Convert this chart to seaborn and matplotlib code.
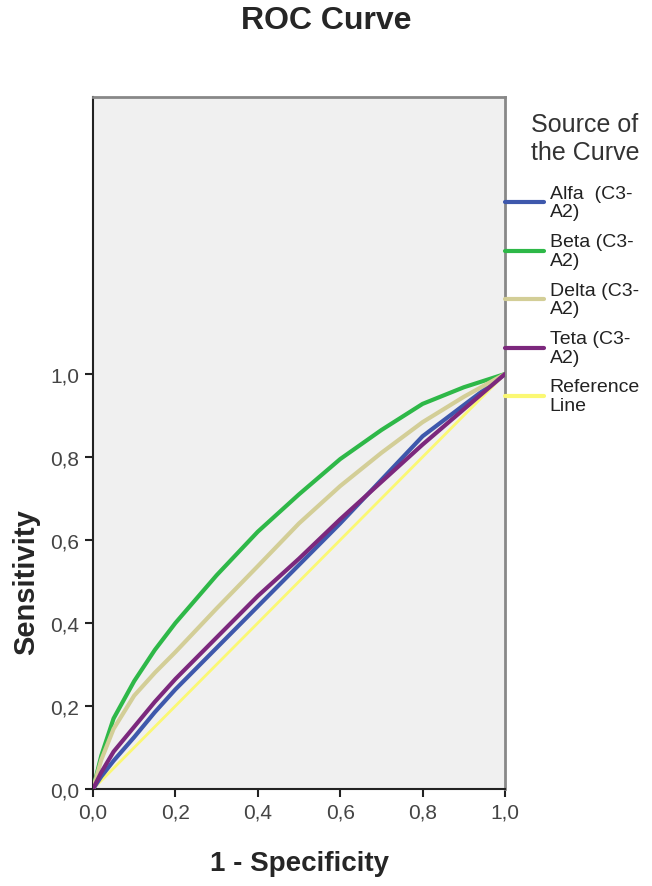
import pandas as pd
import seaborn as sns
import matplotlib.pyplot as plt

# values
fpr = [0.0, 0.02, 0.05, 0.1, 0.15, 0.2, 0.3, 0.4, 0.5, 0.6, 0.7, 0.8, 0.9, 1.0]
alfa = [0.0, 0.03, 0.068, 0.125, 0.185, 0.24, 0.34, 0.44, 0.54, 0.64, 0.745, 0.85, 0.925, 1.0]
beta = [0.0, 0.08, 0.17, 0.26, 0.335, 0.40, 0.515, 0.62, 0.71, 0.795, 0.865, 0.928, 0.968, 1.0]
delta = [0.0, 0.07, 0.145, 0.225, 0.28, 0.33, 0.435, 0.537, 0.64, 0.73, 0.81, 0.884, 0.945, 1.0]
teta = [0.0, 0.04, 0.09, 0.15, 0.21, 0.265, 0.365, 0.465, 0.555, 0.65, 0.74, 0.83, 0.915, 1.0]
ref_x = [0.0, 1.0]
ref_y = [0.0, 1.0]

labels = ["Alfa  (C3-\nA2)", "Beta (C3-\nA2)", "Delta (C3-\nA2)", "Teta (C3-\nA2)"]
colors = ["#3e58ac", "#2eb848", "#d3ce97", "#7c287d"]
ticks = [0.0, 0.2, 0.4, 0.6, 0.8, 1.0]
tick_labels = ["0,0", "0,2", "0,4", "0,6", "0,8", "1,0"]

rows = []
for lab, ys in zip(labels, [alfa, beta, delta, teta]):
    for x, y in zip(fpr, ys):
        rows.append({"fpr": x, "sens": y, "curve": lab})
df = pd.DataFrame(rows)

sns.set_style("white")
plt.rcParams["font.family"] = ["Liberation Sans", "DejaVu Sans"]

fig = plt.figure(figsize=(6.52, 8.87), dpi=100)
ax = fig.add_axes([93 / 652, 1 - 790 / 887, 412 / 652, 692 / 887])
ax.set_facecolor("#f0f0f0")

ax.plot(ref_x, ref_y, color="#fbf873", lw=2, label="Reference\nLine", zorder=2)
sns.lineplot(data=df, x="fpr", y="sens", hue="curve", palette=dict(zip(labels, colors)),
             estimator=None, sort=False, lw=3, ax=ax, zorder=3)

ax.set_xlim(0, 1)
ax.set_ylim(0, 692 / 415)
ax.set_xticks(ticks)
ax.set_xticklabels(tick_labels)
ax.set_yticks(ticks)
ax.set_yticklabels(tick_labels)
ax.tick_params(axis="both", direction="out", length=6, width=1.5, color="#222222",
               labelsize=15, labelcolor="#444444", bottom=True, left=True, pad=4)

for side in ["left", "bottom"]:
    ax.spines[side].set_color("#222222")
    ax.spines[side].set_linewidth(1.5)
for side in ["top", "right"]:
    ax.spines[side].set_color("#888888")
    ax.spines[side].set_linewidth(2)

ax.set_xlabel("1 - Specificity", fontsize=20, fontweight="bold", labelpad=20)
ax.set_ylabel("Sensitivity", fontsize=21, fontweight="bold")
ax.yaxis.set_label_coords(-0.128, 0.5 / (692 / 415))
fig.suptitle("ROC Curve", x=0.5, y=0.976, va="center", fontsize=23, fontweight="bold")

# legend order: curves then reference line
handles, labs = ax.get_legend_handles_labels()
order = [labs.index(l) for l in labels] + [labs.index("Reference\nLine")]
leg = ax.legend([handles[i] for i in order], [labs[i] for i in order],
                title="Source of\nthe Curve", loc="upper left", bbox_to_anchor=(1.0, 0.978),
                frameon=False, fontsize=14, title_fontsize=18, handlelength=2.0,
                handletextpad=0.3, borderaxespad=0, borderpad=0, labelspacing=0.66,
                alignment="right")
leg._legend_box.sep = 15
leg.get_title().set_multialignment("left")
leg.get_title().set_color("#333333")
for t in leg.get_texts():
    t.set_color("#222222")
    t.set_linespacing(1.12)
for h in leg.legend_handles:
    h.set_linewidth(3)

fig.savefig("out.png", dpi=100)
